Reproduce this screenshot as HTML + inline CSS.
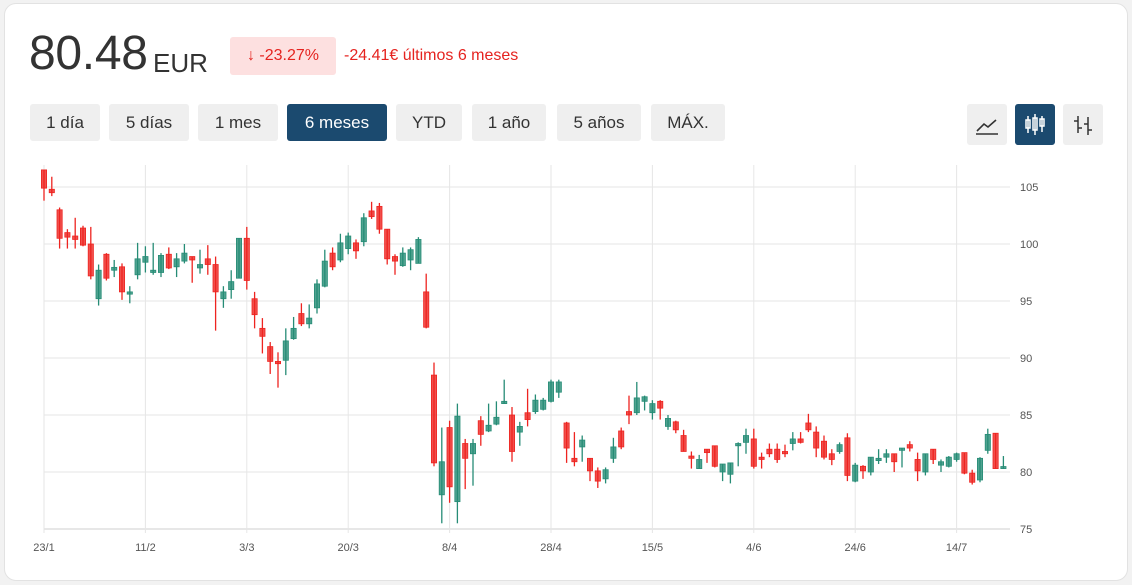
<!DOCTYPE html>
<html><head><meta charset="utf-8">
<style>
body{margin:0;width:1132px;height:585px;background:#f2f2f2;font-family:"Liberation Sans",sans-serif;overflow:hidden}
.card{position:absolute;left:4px;top:3px;width:1122px;height:576px;background:#fff;border:1px solid #e2e2e2;border-radius:12px}
.price{position:absolute;left:29px;top:26px;font-size:48px;color:#333;letter-spacing:-0.3px}
.cur{position:absolute;left:153px;top:48px;font-size:26px;color:#333}
.badge{position:absolute;left:230px;top:37px;width:106px;height:38px;background:#fde0e0;border-radius:3px;color:#e5231f;font-size:16px;line-height:38px;text-align:center}
.chg{position:absolute;left:344px;top:47px;color:#e5231f;font-size:16px}
.btn{position:absolute;top:104px;height:37px;line-height:37px;background:#efefef;border-radius:3px;font-size:17px;color:#333;text-align:center}
.btn.act{background:#1b4a6f;color:#fff}
.ib{position:absolute;top:104px;width:40px;height:41px;background:#efefef;border-radius:3px}
.ib.act{background:#1b4a6f}
</style></head><body>
<div class="card"></div>
<div class="price">80.48</div>
<div class="cur">EUR</div>
<div class="badge">↓ -23.27%</div>
<div class="chg">-24.41€ últimos 6 meses</div>
<div class="btn" style="left:30px;width:70px">1 día</div>
<div class="btn" style="left:109px;width:80px">5 días</div>
<div class="btn" style="left:198px;width:80px">1 mes</div>
<div class="btn act" style="left:287px;width:100px">6 meses</div>
<div class="btn" style="left:396px;width:66px">YTD</div>
<div class="btn" style="left:472px;width:74px">1 año</div>
<div class="btn" style="left:557px;width:84px">5 años</div>
<div class="btn" style="left:651px;width:74px">MÁX.</div>
<div class="ib" style="left:967px"><svg width="40" height="41"><path d="M10 27 L17 20 L21 23 L29 16" stroke="#333" stroke-width="1.6" fill="none"/><line x1="9" y1="30" x2="31" y2="30" stroke="#333" stroke-width="1.4"/></svg></div>
<div class="ib act" style="left:1015px"><svg width="40" height="41"><g stroke="#fff" stroke-width="1.5" fill="none"><line x1="13" y1="12" x2="13" y2="29"/><rect x="11" y="16" width="4" height="8"/><line x1="20" y1="10" x2="20" y2="31"/><rect x="18" y="14" width="4" height="12"/><line x1="27" y1="12" x2="27" y2="28"/><rect x="25" y="15" width="4" height="7"/></g></svg></div>
<div class="ib" style="left:1063px"><svg width="40" height="41"><g stroke="#333" stroke-width="1.5"><line x1="15" y1="12" x2="15" y2="29"/><line x1="11" y1="17" x2="15" y2="17"/><line x1="15" y1="24" x2="19" y2="24"/><line x1="25" y1="13" x2="25" y2="31"/><line x1="21" y1="20" x2="25" y2="20"/><line x1="25" y1="26" x2="29" y2="26"/></g></svg></div>
<svg id="chart" width="1132" height="585" style="position:absolute;left:0;top:0"></svg>
<script>
const opens=[106.5,104.8,103.0,101.0,100.7,101.4,100.0,95.2,99.1,97.7,98.0,95.6,97.3,98.4,97.5,97.5,99.1,98.0,98.5,98.9,97.9,98.7,98.2,95.2,96.0,97.0,100.5,95.2,92.6,91.0,89.7,89.8,91.7,93.9,93.0,94.4,96.3,99.2,98.6,99.6,100.1,100.2,102.9,103.3,101.3,98.9,98.1,98.6,98.3,95.8,88.5,78.0,83.9,77.4,82.5,81.6,84.5,83.6,84.2,86.0,85.0,83.5,85.2,85.3,85.5,86.2,87.0,84.3,81.2,82.2,81.2,80.1,79.4,81.2,83.6,85.3,85.2,86.2,85.2,86.2,84.0,84.4,83.2,81.4,80.3,82.0,82.3,80.0,79.8,82.3,82.6,82.9,81.3,82.0,82.0,81.8,82.5,82.9,84.3,83.5,82.7,81.6,81.8,83.0,79.2,80.5,80.0,81.0,81.3,81.6,81.9,82.4,81.1,80.0,82.0,80.6,80.5,81.1,81.7,79.9,79.3,81.9,83.4,80.3];
const highs=[106.5,105.9,103.2,101.3,102.3,101.6,101.5,98.2,99.2,98.6,98.3,96.3,100.1,99.8,100.1,99.2,99.7,99.2,100.0,98.9,99.5,99.9,98.9,96.3,97.7,100.5,101.5,95.8,93.5,91.4,90.5,92.6,93.6,94.8,94.7,96.9,99.5,99.7,100.9,101.0,100.4,102.7,103.7,103.6,101.3,99.1,99.7,99.7,100.6,97.4,89.6,83.9,84.5,86.0,82.9,82.9,84.9,86.0,86.2,88.1,85.7,84.4,87.3,86.8,86.5,88.1,88.1,84.4,83.5,83.2,81.2,80.4,80.4,83.0,83.9,86.7,87.9,86.7,86.3,86.3,85.0,84.5,83.7,81.8,81.5,82.0,82.3,80.7,80.8,82.6,83.8,83.8,81.7,82.5,82.5,82.4,83.5,83.5,85.1,84.0,83.2,82.0,82.6,83.4,80.8,80.6,81.3,82.0,82.0,81.6,82.1,82.7,81.7,81.6,82.0,81.1,81.4,81.7,81.7,80.2,81.3,83.8,83.4,81.4];
const lows=[103.8,104.2,99.6,99.6,99.6,99.8,96.9,94.6,96.8,97.1,95.1,94.8,96.9,97.5,97.3,97.1,97.8,97.1,98.3,96.6,97.4,97.3,92.4,94.4,95.2,97.0,96.0,92.6,90.4,88.6,87.4,88.5,91.6,92.8,92.6,93.9,96.2,97.7,98.4,99.1,98.7,99.8,102.2,100.9,98.2,97.3,98.0,97.7,98.3,92.6,80.5,75.5,77.3,75.5,78.5,78.8,82.3,83.5,84.1,86.0,80.9,82.3,84.0,85.1,85.4,86.1,86.5,80.8,80.5,80.9,79.2,78.6,79.0,80.8,82.0,84.2,85.0,85.4,84.6,84.6,83.7,83.4,81.8,80.3,80.3,80.8,80.4,79.2,79.0,80.5,81.6,80.3,80.3,81.3,80.8,81.3,81.9,82.5,83.5,81.3,81.1,80.6,81.6,79.2,79.1,79.4,79.7,80.7,80.8,80.0,80.4,81.8,79.2,79.7,80.7,80.0,80.4,80.9,79.8,78.9,79.1,81.6,80.3,80.3];
const closes=[104.9,104.5,100.5,100.6,100.4,99.9,97.2,97.7,97.0,97.95,95.8,95.8,98.7,98.9,97.7,99.0,97.9,98.7,99.2,98.6,98.2,98.2,95.8,95.8,96.7,100.5,96.8,93.8,91.9,89.7,89.5,91.5,92.6,93.0,93.5,96.5,98.5,98.0,100.1,100.7,99.4,102.3,102.4,101.3,98.7,98.5,99.2,99.5,100.4,92.7,80.8,80.9,78.7,84.9,81.2,82.5,83.3,84.1,84.8,86.2,81.8,84.0,84.6,86.3,86.3,87.9,87.9,82.1,80.9,82.8,80.1,79.2,80.2,82.2,82.2,85.0,86.5,86.6,86.0,85.6,84.7,83.7,81.8,81.2,81.1,81.7,80.5,80.7,80.8,82.5,83.2,80.5,81.1,81.6,81.1,81.6,82.9,82.6,83.7,82.1,81.3,81.1,82.4,79.7,80.6,80.1,81.3,81.2,81.6,80.9,82.1,82.1,80.1,81.6,81.1,80.9,81.3,81.6,79.9,79.1,81.2,83.3,80.3,80.48];
const dateLabels=["23/1","11/2","3/3","20/3","8/4","28/4","15/5","4/6","24/6","14/7"];
const dateIdx=[0,13,26,39,52,65,78,91,104,117];
const priceTicks=[75,80,85,90,95,100,105];

const svg=document.getElementById('chart');
const NS='http://www.w3.org/2000/svg';
const X0=44,STEP=7.8,PLOT_R=1010;
function xs(i){return X0+i*STEP;}
function ys(v){return 187+(105-v)*11.4;}
function mk(t,a){const e=document.createElementNS(NS,t);for(const k in a)e.setAttribute(k,a[k]);svg.appendChild(e);return e;}
priceTicks.forEach(p=>{
  const g=mk('line',{x1:X0,x2:PLOT_R,y1:ys(p),y2:ys(p),stroke:p===75?'#cfcfcf':'#e6e6e6','stroke-width':1});
  
  
  const t=mk('text',{x:1020,y:ys(p)+4,'font-size':11,fill:'#555','font-family':'Liberation Sans, sans-serif'});
  t.textContent=p;
  
  
});
dateIdx.forEach((d,k)=>{
  const g=mk('line',{x1:xs(d),x2:xs(d),y1:165,y2:533,stroke:'#e6e6e6','stroke-width':1});
  
  
  const t=mk('text',{x:xs(d),y:551,'font-size':11,fill:'#555','text-anchor':'middle','font-family':'Liberation Sans, sans-serif'});
  t.textContent=dateLabels[k];
  
  
});
for(let i=0;i<opens.length;i++){
  const up=closes[i]>=opens[i];
  const col=up?'#268c76':'#ee2420';
  const x=xs(i);
  const w=mk('line',{x1:x,x2:x,y1:ys(highs[i]),y2:ys(lows[i]),stroke:col,'stroke-width':1.3});
  
  
  const top=ys(Math.max(opens[i],closes[i])),bot=ys(Math.min(opens[i],closes[i]));
  const b=mk('rect',{x:x-2.6,y:top,width:5.2,height:Math.max(bot-top,1.5),fill:col,'fill-opacity':0.8,stroke:col,'stroke-width':0.8});
  
  
}
</script>
</body></html>
